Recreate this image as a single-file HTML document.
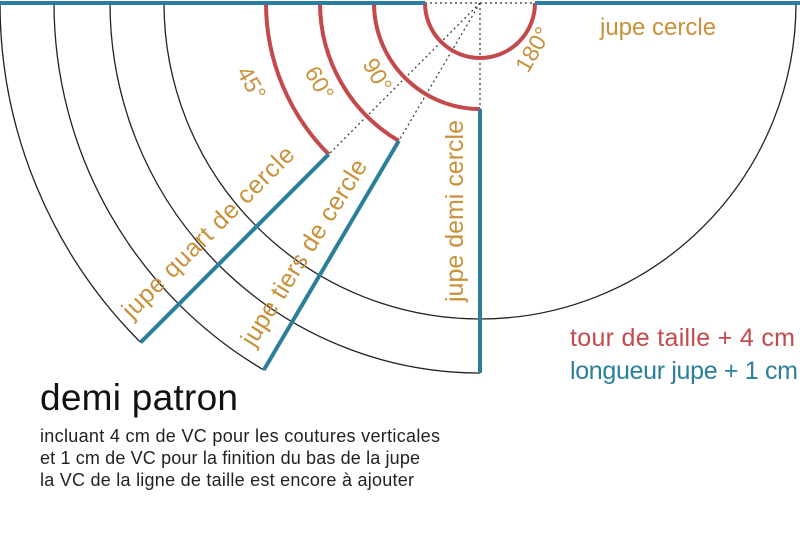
<!DOCTYPE html>
<html><head><meta charset="utf-8"><style>
html,body{margin:0;padding:0;background:#fff;}
svg{display:block;}
text{font-family:"Liberation Sans",sans-serif;}
</style></head><body>
<svg width="800" height="543" viewBox="0 0 800 543" xmlns="http://www.w3.org/2000/svg">
<g fill="none" stroke="#222" stroke-width="1.3">
<path d="M0 3 A480 480 0 0 0 140.6 342.4"/>
<path d="M54 3 A426 426 0 0 0 263.8 370"/>
<path d="M110 3 A370 370 0 0 0 480 373"/>
<path d="M164 3 A316 316 0 0 0 796 3"/>
</g>
<g fill="none" stroke="#333" stroke-width="1.2" stroke-dasharray="2,3">
<line x1="425" y1="3" x2="535" y2="3"/>
<line x1="480" y1="3" x2="480" y2="109"/>
<line x1="480" y1="3" x2="328.7" y2="154.3"/>
<line x1="480" y1="3" x2="398.8" y2="140.9"/>
</g>
<g fill="none" stroke="#c4494b" stroke-width="4">
<path d="M425 3 A55 55 0 0 0 535 3"/>
<path d="M374 3 A106 106 0 0 0 480 109"/>
<path d="M320 3 A160 160 0 0 0 398.8 140.9"/>
<path d="M266 3 A214 214 0 0 0 328.7 154.3"/>
</g>
<g fill="none" stroke="#2a7f9a" stroke-width="4">
<line x1="0" y1="3" x2="425" y2="3"/>
<line x1="535" y1="3" x2="800" y2="3"/>
<line x1="480" y1="109" x2="480" y2="373"/>
<line x1="398.8" y1="140.9" x2="263.8" y2="370"/>
<line x1="328.7" y1="154.3" x2="140.6" y2="342.4"/>
</g>
<g fill="#c8913a" font-size="25">
<text x="600" y="35" font-size="24">jupe cercle</text>
<text transform="translate(463,302) rotate(-90)" textLength="182">jupe demi cercle</text>
<text transform="translate(132,320) rotate(-45)" textLength="232">jupe quart de cercle</text>
<text transform="translate(254,348) rotate(-58)" textLength="215">jupe tiers de cercle</text>
<text transform="translate(236,72) rotate(60)" font-size="23">45°</text>
<text transform="translate(304,72) rotate(60)" font-size="23">60°</text>
<text transform="translate(362,64) rotate(60)" font-size="23">90°</text>
<text transform="translate(528,74) rotate(-60)" font-size="23">180°</text>
</g>
<text x="570" y="346" font-size="25" fill="#c4494b" textLength="225">tour de taille + 4 cm</text>
<text x="570" y="379" font-size="25" fill="#2a7f9a" textLength="228">longueur jupe + 1 cm</text>
<text x="40" y="410" font-size="37" fill="#111" textLength="198">demi patron</text>
<g font-size="18" fill="#222">
<text x="40" y="442" textLength="400">incluant 4 cm de VC pour les coutures verticales</text>
<text x="40" y="464" textLength="380">et 1 cm de VC pour la finition du bas de la jupe</text>
<text x="40" y="486" textLength="374">la VC de la ligne de taille est encore à ajouter</text>
</g>
</svg>
</body></html>
